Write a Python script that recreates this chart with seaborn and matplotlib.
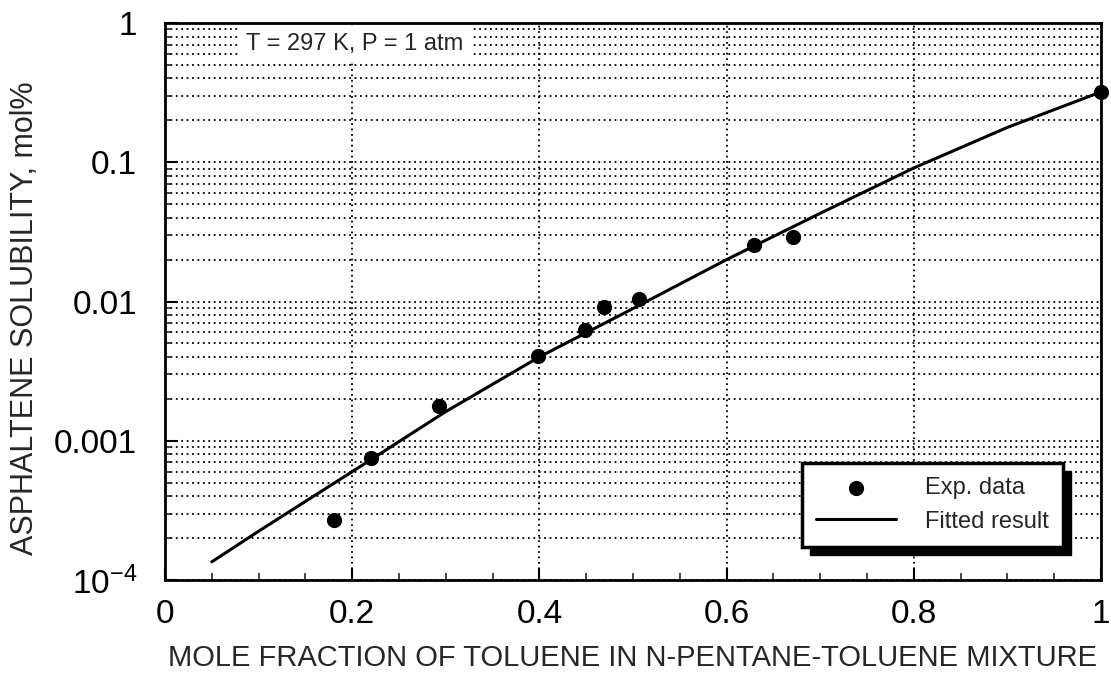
import numpy as np
import pandas as pd
import matplotlib
matplotlib.use("Agg")
import matplotlib.pyplot as plt
import matplotlib.ticker as mticker
from matplotlib.patches import Rectangle
import seaborn as sns

# ---- data ----
exp_x = [0.181, 0.220, 0.293, 0.398, 0.449, 0.469, 0.506, 0.629, 0.671, 1.0]
exp_y = [2.7e-4, 7.5e-4, 1.78e-3, 4.06e-3, 6.2e-3, 9.1e-3, 0.0104, 0.0255, 0.029, 0.32]

fit_x = [0.05, 0.1, 0.2, 0.3, 0.4, 0.5, 0.6, 0.7, 0.8, 0.9, 1.0]
fit_y = [1.35e-4, 2.24e-4, 6.0e-4, 1.62e-3, 4.0e-3, 8.9e-3, 0.020, 0.043, 0.091, 0.178, 0.32]

x_ticks = [0, 0.2, 0.4, 0.6, 0.8, 1]
x_labels = ["0", "0.2", "0.4", "0.6", "0.8", "1"]
y_ticks = [1e-4, 1e-3, 1e-2, 1e-1, 1]
y_labels = [r"10$^{\mathregular{-4}}$", "0.001", "0.01", "0.1", "1"]

x_title = "MOLE FRACTION OF TOLUENE IN N-PENTANE-TOLUENE MIXTURE"
y_title = "ASPHALTENE SOLUBILITY, mol%"
note = "T = 297 K, P = 1 atm"

exp_df = pd.DataFrame({"x": exp_x, "y": exp_y})
fit_df = pd.DataFrame({"x": fit_x, "y": fit_y})

sns.set_style("ticks")
plt.rcParams["font.family"] = ["Liberation Sans", "DejaVu Sans"]
plt.rcParams["mathtext.fontset"] = "custom"
plt.rcParams["mathtext.rm"] = "Liberation Sans"
plt.rcParams["mathtext.it"] = "Liberation Sans"

fig = plt.figure(figsize=(11.11, 6.81), dpi=100)
ax = fig.add_axes([0.1485, 0.1483, 0.8425, 0.8179])

sns.scatterplot(data=exp_df, x="x", y="y", ax=ax, color="black", s=120,
                edgecolor="black", linewidth=0, label="Exp. data", legend=False,
                zorder=4, clip_on=False)
sns.lineplot(data=fit_df, x="x", y="y", ax=ax, color="black", linewidth=2.2,
             label="Fitted result", legend=False, zorder=3)

ax.set_yscale("log")
ax.set_xlim(0, 1)
ax.set_ylim(1e-4, 1)

ax.set_xticks(x_ticks)
ax.set_xticklabels(x_labels)
ax.xaxis.set_minor_locator(mticker.MultipleLocator(0.05))
ax.yaxis.set_major_locator(mticker.FixedLocator(y_ticks))
ax.yaxis.set_major_formatter(mticker.FixedFormatter(y_labels))
ax.yaxis.set_minor_locator(mticker.LogLocator(base=10, subs=np.arange(2, 10)))
ax.yaxis.set_minor_formatter(mticker.NullFormatter())

ax.tick_params(axis="both", which="major", direction="in", labelsize=24,
               length=9, width=1.5, colors="black")
ax.tick_params(axis="x", which="major", pad=14)
ax.tick_params(axis="y", which="major", pad=20)
ax.tick_params(axis="both", which="minor", direction="in", length=5, width=1.2)

# grid
ax.grid(True, axis="y", which="both", color="black", linestyle=(0, (1, 2)),
        linewidth=1.3, zorder=0)
ax.grid(True, axis="x", which="major", color="black", linestyle=(0, (1, 2)),
        linewidth=1.3, zorder=0)
ax.set_axisbelow(True)

for sp in ax.spines.values():
    sp.set_linewidth(2)
    sp.set_color("black")

ax.set_xlabel(x_title, fontsize=21, labelpad=10)
ax.set_ylabel(y_title, fontsize=22)
ax.yaxis.set_label_coords(-0.133, 0.47)

ax.text(0.087, 0.962, note, transform=ax.transAxes, fontsize=17, ha="left",
        va="center", zorder=5,
        bbox=dict(facecolor="white", edgecolor="none", pad=5))

leg = ax.legend(loc="upper left", bbox_to_anchor=(0.668, 0.232), fontsize=17,
                frameon=True, fancybox=False, edgecolor="black", framealpha=1,
                handlelength=3.4, handletextpad=1.2, borderpad=0.6,
                labelspacing=0.5, markerscale=1.0)
leg.get_frame().set_linewidth(2.5)
leg.set_zorder(10)

# drop shadow behind legend
fig.canvas.draw()
bb = leg.get_window_extent()
inv = fig.transFigure.inverted()
(x0, y0), (x1, y1) = inv.transform([[bb.x0 + 8, bb.y0 - 8], [bb.x1 + 8, bb.y1 - 8]])
shadow = Rectangle((x0, y0), x1 - x0, y1 - y0, transform=fig.transFigure,
                   facecolor="black", edgecolor="black", zorder=9)
ax.add_artist(shadow)
shadow.set_clip_on(False)

fig.savefig("out.png", dpi=100)
